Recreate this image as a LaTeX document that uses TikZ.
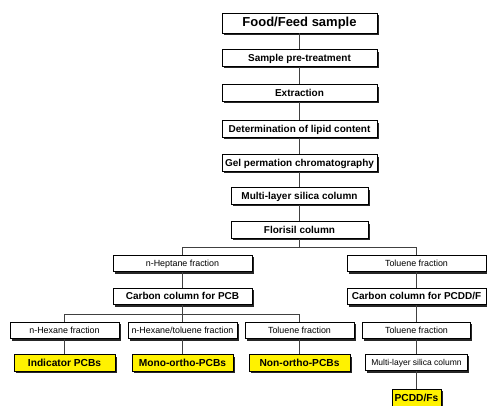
\documentclass[tikz,border=0pt]{standalone}
\usepackage{fontspec}
\setmainfont{Liberation Sans}
\usetikzlibrary{shadows, positioning, calc}

\tikzset{
    box/.style={draw, fill=white, line width=0.7pt, inner sep=0pt, minimum height=16.5pt,
        text height=1.6ex, text depth=0.4ex,
        drop shadow={shadow xshift=1.8pt, shadow yshift=-1.8pt, opacity=1, fill=black!85}},
    stepbox/.style={box, font=\bfseries\fontsize{10}{12}\selectfont},
    fraction/.style={box, font=\fontsize{8.9}{11}\selectfont},
    result/.style={box, fill=yellow, font=\bfseries\fontsize{10.2}{12}\selectfont},
    link/.style={draw=black!75, line width=0.8pt}
}

\begin{document}
\begin{tikzpicture}[x=1pt, y=-1pt]
    \useasboundingbox (0,0) rectangle (487,405);

    % main chain
    \node[box, font=\bfseries\fontsize{13}{15}\selectfont, minimum width=155pt, minimum height=20pt] (food) at (299.5,23) {Food/Feed sample};
    \foreach \n/\y/\w/\t in {pre/58/155/Sample pre-treatment, extr/93/155/Extraction,
        lipid/129/155/Determination of lipid content, gpc/163/155/Gel permation chromatography,
        silica/196/137/Multi-layer silica column, florisil/230/137/Florisil column}
        \node[stepbox, minimum width=\w pt] (\n) at (299.5,\y) {\t};
    \foreach \a/\b in {food/pre, pre/extr, extr/lipid, lipid/gpc, gpc/silica, silica/florisil}
        \draw[link] (\a) -- (\b);

    % heptane / toluene split
    \coordinate (split) at (299.5,247.5);
    \node[fraction, minimum width=139pt] (heptane) at (182.5,263.5) {n-Heptane fraction};
    \node[fraction, minimum width=139pt] (tolR) at (416.5,263.5) {Toluene fraction};
    \node[stepbox, minimum width=139pt] (cpcb) at (182.5,296.5) {Carbon column for PCB};
    \node[stepbox, minimum width=139pt] (cpcdd) at (416.5,296.5) {Carbon column for PCDD/F};
    \draw[link] (florisil) -- (split);
    \draw[link] (heptane.north) -- (heptane.north |- split) -- (tolR.north |- split) -- (tolR.north);
    \draw[link] (heptane) -- (cpcb);
    \draw[link] (tolR) -- (cpcdd);

    % PCB fractions
    \coordinate (split2) at (182.5,314.5);
    \node[fraction, minimum width=109pt] (hexane) at (64.5,330.5) {n-Hexane fraction};
    \node[fraction, minimum width=109pt] (hextol) at (182.5,330.5) {n-Hexane/toluene fraction};
    \node[fraction, minimum width=109pt] (tolM) at (299.5,330.5) {Toluene fraction};
    \node[fraction, minimum width=108pt] (tolD) at (416.5,330.5) {Toluene fraction};
    \draw[link] (cpcb) -- (hextol);
    \draw[link] (hexane.north) -- (hexane.north |- split2) -- (tolM.north |- split2) -- (tolM.north);
    \draw[link] (cpcdd) -- (tolD);

    % results
    \node[result, minimum width=101pt] (indicator) at (64.5,363) {Indicator PCBs};
    \node[result, minimum width=101pt] (mono) at (182.5,363) {Mono-ortho-PCBs};
    \node[result, minimum width=101pt] (nonortho) at (299.5,363) {Non-ortho-PCBs};
    \node[box, font=\fontsize{8.5}{10}\selectfont, minimum width=102pt] (silica2) at (416.5,362.5) {Multi-layer silica column};
    \node[result, minimum width=49pt, minimum height=19pt] (pcdd) at (416.5,398.5) {PCDD/Fs};
    \foreach \a/\b in {hexane/indicator, hextol/mono, tolM/nonortho, tolD/silica2, silica2/pcdd}
        \draw[link] (\a) -- (\b);
\end{tikzpicture}
\end{document}
